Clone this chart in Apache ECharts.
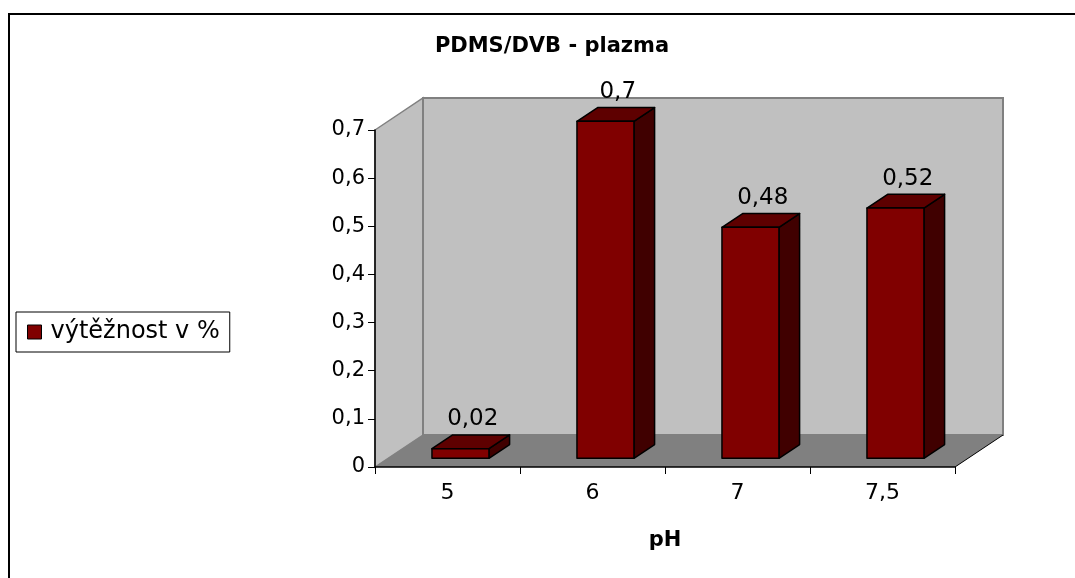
<!DOCTYPE html>
<html>
<head>
<meta charset="utf-8">
<title>PDMS/DVB - plazma</title>
<script src="https://cdn.jsdelivr.net/npm/echarts@6/dist/echarts.min.js"></script>
<style>
  html, body { margin: 0; padding: 0; background: #fff; }
  #chart { width: 1075px; height: 578px; }
</style>
</head>
<body>
<div id="chart"></div>
<script>
// pH levels and recovery (%) for PDMS/DVB fibre in plasma
const categories = ['5', '6', '7', '7,5'];
const recovery = [0.02, 0.7, 0.48, 0.52];
const yTicks = { min: 0, max: 0.7, interval: 0.1 };
const seriesName = 'výtěžnost v %';

// pseudo-3D geometry: depth of the plot box and where bars sit inside it
const DEPTH = [48, -32];
const BAR_FRONT = 0.27;
const BAR_BACK = 0.70;
const BAR_RATIO = 0.393;

const FONT = 'DejaVu Sans';

function fmt(v) {
  const n = Number(v.toFixed(2));
  return n === 0 ? '0' : String(n).replace('.', ',');
}

const chart = echarts.init(document.getElementById('chart'), null, { renderer: 'canvas' });

function renderWalls(params, api) {
  const cs = params.coordSys;
  const x0 = cs.x, x1 = cs.x + cs.width;
  const yTop = cs.y, yBot = cs.y + cs.height;
  const dx = DEPTH[0], dy = DEPTH[1];
  return {
    type: 'group',
    children: [
      {
        type: 'polygon',
        shape: { points: [[x0, yTop], [x0 + dx, yTop + dy], [x0 + dx, yBot + dy], [x0, yBot]] },
        style: { fill: '#c0c0c0', stroke: '#808080', lineWidth: 1.5 }
      },
      {
        type: 'polygon',
        shape: { points: [[x0 + dx, yTop + dy], [x1 + dx, yTop + dy], [x1 + dx, yBot + dy], [x0 + dx, yBot + dy]] },
        style: { fill: '#c0c0c0', stroke: '#808080', lineWidth: 2 }
      },
      {
        type: 'polygon',
        shape: { points: [[x0, yBot], [x0 + dx, yBot + dy], [x1 + dx, yBot + dy], [x1, yBot]] },
        style: { fill: '#808080', stroke: null }
      },
      {
        type: 'line',
        shape: { x1: x1, y1: yBot, x2: x1 + dx, y2: yBot + dy },
        style: { stroke: '#000', lineWidth: 1 }
      }
    ]
  };
}

function renderBar(params, api) {
  const idx = api.value(0);
  const v = api.value(1);
  const top = api.coord([idx, v]);
  const base = api.coord([idx, 0]);
  const bw = api.size([1, 0])[0] * BAR_RATIO;
  const fdx = DEPTH[0] * BAR_FRONT, fdy = DEPTH[1] * BAR_FRONT;
  const sdx = DEPTH[0] * (BAR_BACK - BAR_FRONT), sdy = DEPTH[1] * (BAR_BACK - BAR_FRONT);
  const cx = base[0] + fdx;
  const xl = cx - bw / 2, xr = cx + bw / 2;
  const yb = base[1] + fdy, yt = top[1] + fdy;
  const edge = { stroke: '#000', lineWidth: 1.5, lineJoin: 'round' };
  return {
    type: 'group',
    children: [
      {
        type: 'polygon',
        shape: { points: [[xr, yb], [xr + sdx, yb + sdy], [xr + sdx, yt + sdy], [xr, yt]] },
        style: Object.assign({ fill: '#400000' }, edge)
      },
      {
        type: 'polygon',
        shape: { points: [[xl, yt], [xr, yt], [xr + sdx, yt + sdy], [xl + sdx, yt + sdy]] },
        style: Object.assign({ fill: '#5e0000' }, edge)
      },
      {
        type: 'rect',
        shape: { x: xl, y: yt, width: bw, height: yb - yt },
        style: Object.assign({ fill: '#800000' }, edge)
      },
      {
        type: 'text',
        style: {
          text: fmt(v),
          x: cx + sdx / 2 + 2,
          y: yt + sdy - 4,
          align: 'center',
          verticalAlign: 'bottom',
          fontFamily: FONT,
          fontSize: 23,
          fill: '#000'
        }
      }
    ]
  };
}

const option = {
  animation: false,
  backgroundColor: '#fff',
  title: {
    text: 'PDMS/DVB - plazma',
    left: 547,
    top: 31,
    textAlign: 'center',
    textStyle: { fontFamily: FONT, fontSize: 21, fontWeight: 'bold', color: '#000' }
  },
  legend: {
    data: [seriesName],
    left: 16,
    top: 312,
    orient: 'vertical',
    padding: [8, 10, 8, 11],
    borderColor: '#000',
    borderWidth: 1,
    itemWidth: 14,
    itemHeight: 14,
    icon: 'rect',
    itemStyle: { borderColor: '#000', borderWidth: 1 },
    textStyle: { fontFamily: FONT, fontSize: 24, color: '#000', lineHeight: 24, padding: [0, 0, 0, 4] }
  },
  grid: { left: 375, right: 120, top: 130, bottom: 111, containLabel: false },
  xAxis: {
    type: 'category',
    data: categories,
    boundaryGap: true,
    name: 'pH',
    nameLocation: 'middle',
    nameGap: 63,
    nameTextStyle: { fontFamily: FONT, fontSize: 21, fontWeight: 'bold', color: '#000' },
    axisLine: { lineStyle: { color: '#000', width: 1.5 } },
    axisTick: { show: true, length: 7, lineStyle: { color: '#000', width: 1 } },
    axisLabel: { margin: 15, fontFamily: FONT, fontSize: 22, color: '#000' },
    splitLine: { show: false }
  },
  yAxis: {
    type: 'value',
    min: yTicks.min,
    max: yTicks.max,
    interval: yTicks.interval,
    axisLine: { show: true, lineStyle: { color: '#000', width: 1.5 } },
    axisTick: { show: true, length: 7, lineStyle: { color: '#000', width: 1 } },
    axisLabel: { margin: 10, fontFamily: FONT, fontSize: 21, color: '#000', formatter: fmt },
    splitLine: { show: false }
  },
  graphic: [
    {
      type: 'rect',
      shape: { x: 9, y: 14, width: 1200, height: 700 },
      style: { fill: null, stroke: '#000', lineWidth: 2 },
      silent: true
    }
  ],
  series: [
    {
      name: 'walls',
      type: 'custom',
      z: -1,
      silent: true,
      clip: false,
      renderItem: renderWalls,
      data: [[0, 0]],
      legendHoverLink: false
    },
    {
      name: seriesName,
      type: 'custom',
      clip: false,
      itemStyle: { color: '#800000' },
      renderItem: renderBar,
      encode: { x: 0, y: 1 },
      data: recovery.map((v, i) => [i, v])
    }
  ]
};

chart.setOption(option);
</script>
</body>
</html>
